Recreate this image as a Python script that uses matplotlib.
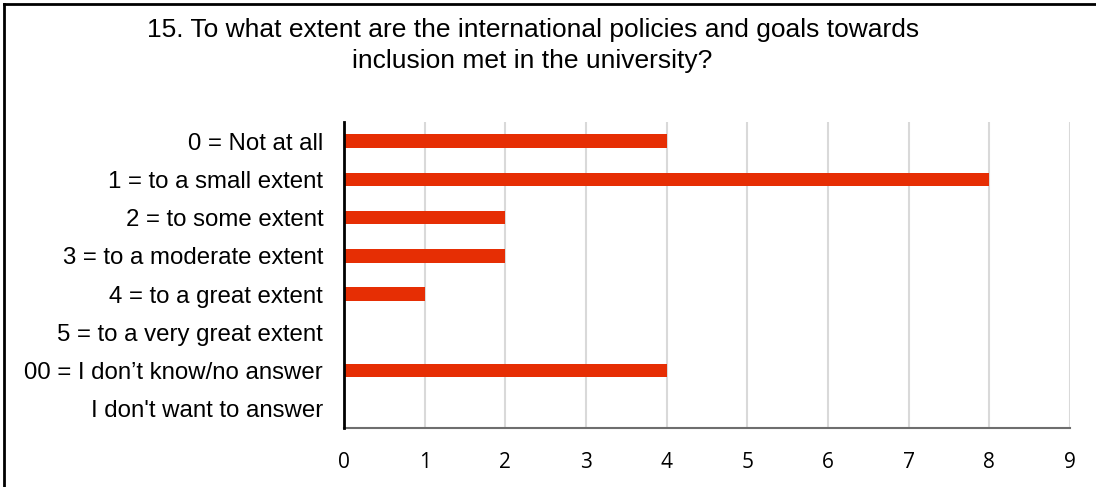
import matplotlib
matplotlib.use("Agg")
import matplotlib.pyplot as plt
from matplotlib.lines import Line2D

categories = [
    "0 = Not at all",
    "1 = to a small extent",
    "2 = to some extent",
    "3 = to a moderate extent",
    "4 = to a great extent",
    "5 = to a very great extent",
    "00 = I don\u2019t know/no answer",
    "I don't want to answer",
]
counts = [4, 8, 2, 2, 1, 0, 4, 0]
x_ticks = list(range(0, 10))

title = ("15. To what extent are the international policies and goals towards\n"
         "inclusion met in the university?")

bar_color = "#E62E04"

fig = plt.figure(figsize=(10.96, 4.87), dpi=100)
ax = fig.add_axes([0.3139, 0.1211, 0.6624, 0.6284])

y = list(range(len(categories)))
ax.barh(y, counts, height=0.35, color=bar_color, zorder=3)
ax.set_ylim(len(categories) - 0.5, -0.5)
ax.set_xlim(0, 9)
ax.set_xticks(x_ticks)
ax.set_xticklabels([str(t) for t in x_ticks], fontfamily="Open Sans", fontsize=15)
ax.set_yticks(y)
ax.set_yticklabels(categories, fontfamily="Liberation Sans", fontsize=17.3)
ax.tick_params(axis="both", length=0)
ax.tick_params(axis="x", pad=17)
ax.tick_params(axis="y", pad=15)

ax.grid(axis="x", color="#D9D9D9", linewidth=1.5, zorder=0)
ax.grid(axis="y", visible=False)
for side in ("top", "right"):
    ax.spines[side].set_visible(False)
ax.spines["left"].set_color("black")
ax.spines["left"].set_linewidth(2)
ax.spines["left"].set_zorder(4)
ax.spines["bottom"].set_color("#6E6E6E")
ax.spines["bottom"].set_linewidth(1.5)

fig.text(0.486, 0.963, title, ha="center", va="top", fontfamily="Liberation Sans",
         fontsize=19, linespacing=1.38)

# frame around the chart area (top and left edges)
fig.add_artist(Line2D([0.004, 1.0], [0.991, 0.991], transform=fig.transFigure,
                      color="black", linewidth=2))
fig.add_artist(Line2D([0.004, 0.004], [0.0, 0.991], transform=fig.transFigure,
                      color="black", linewidth=2))

fig.savefig("out.png", dpi=100, facecolor="white")
